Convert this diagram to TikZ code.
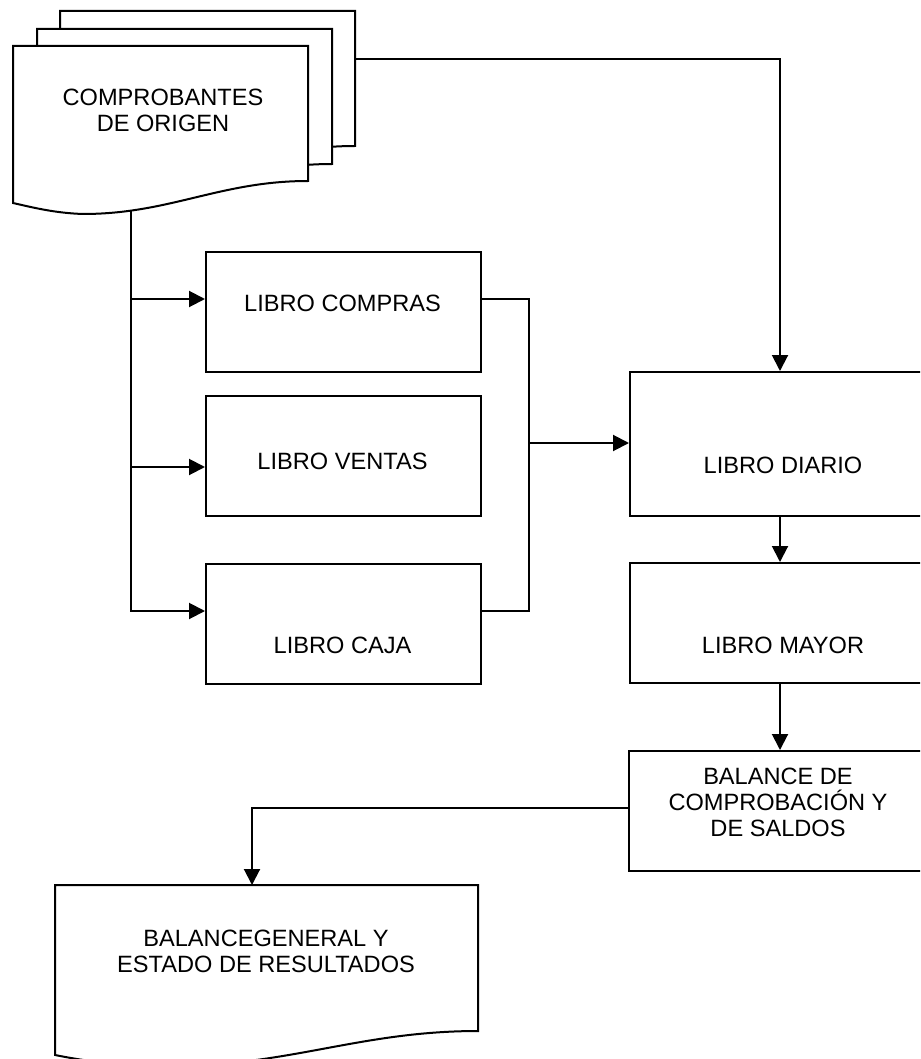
\documentclass[tikz,border=0pt]{standalone}
\usepackage{fontspec}
\setmainfont{Liberation Sans}
\usetikzlibrary{arrows.meta,calc}
\begin{document}
\begin{tikzpicture}[x=0.5pt,y=-0.5pt,
  outline/.style={draw=black,line width=1pt,fill=white,line join=miter},
  stepbox/.style={outline,rectangle,inner sep=0pt,anchor=north west},
  txt/.style={font=\fontsize{11.8pt}{13pt}\selectfont,align=center,inner sep=0pt},
  link/.style={draw=black,line width=1pt},
  arrow/.style={link,-{Triangle[length=8pt,width=8pt]}}]
\useasboundingbox (0,0) rectangle (920,1059);
\begin{scope}
\clip (0,0) rectangle (920,1059);

% stacked source documents
\foreach \dx/\dy in {47/-35,24/-17,0/0}{
  \draw[outline,shift={(\dx,\dy)}] (13,46) -- (308,46) -- (308,181)
    .. controls (220,181) and (170,214) .. (83,214)
    .. controls (55,213) and (35,208) .. (13,203) -- cycle;
}
\node[txt] (src) at (163,110) {COMPROBANTES\\DE ORIGEN};
\coordinate (srcout) at (131,211);
\coordinate (srcback) at (355,59);

% auxiliary books
\node[stepbox,minimum width=137.5pt,minimum height=60pt] (compras) at (205,251) {};
\node[stepbox,minimum width=137.5pt,minimum height=60pt] (ventas) at (205,395) {};
\node[stepbox,minimum width=137.5pt,minimum height=60pt] (caja) at (205,563) {};
\node[txt] (tcompras) at (342.5,303) {LIBRO COMPRAS};
\node[txt] (tventas) at (342.5,461) {LIBRO VENTAS};
\node[txt] (tcaja) at (342.5,645) {LIBRO CAJA};

% main books
\node[stepbox,minimum width=150pt,minimum height=72pt] (diario) at (629,371) {};
\node[stepbox,minimum width=150pt,minimum height=60pt] (mayor) at (629,562) {};
\node[stepbox,minimum width=151pt,minimum height=60pt] (balance) at (628,750) {};
\node[txt] (tdiario) at (783,465) {LIBRO DIARIO};
\node[txt] (tmayor) at (783,645) {LIBRO MAYOR};
\node[txt] (tbalance) at (778,802) {BALANCE DE\\COMPROBACIÓN Y\\DE SALDOS};

% final statements document
\draw[outline] (55,885) -- (478,885) -- (478,1031)
  .. controls (360,1031) and (290,1066) .. (170,1066)
  .. controls (120,1066) and (85,1061) .. (55,1055) -- cycle;
\node[txt] (final) at (266,951) {BALANCEGENERAL Y\\ESTADO DE RESULTADOS};
\coordinate (finalin) at (252,885);

% connection points
\coordinate (comprasin) at ($(compras.north west)+(0,48)$);
\coordinate (ventasin) at ($(ventas.north west)+(0,72)$);
\coordinate (cajain) at ($(caja.north west)+(0,48)$);
\coordinate (comprasout) at ($(compras.north east)+(0,48)$);
\coordinate (cajaout) at ($(caja.north east)+(0,48)$);
\coordinate (rbus) at (529,443);
\coordinate (balout) at ($(balance.north west)+(0,58)$);

% source to auxiliary books
\draw[arrow] (srcout) |- (cajain);
\draw[arrow] (srcout |- comprasin) -- (comprasin);
\draw[arrow] (srcout |- ventasin) -- (ventasin);

% auxiliary books to journal
\draw[link] (comprasout) -| (rbus) |- (cajaout);
\draw[arrow] (rbus) -- (rbus -| diario.west);

% source straight to journal
\draw[arrow] (srcback) -| (diario.north);

% journal -> ledger -> trial balance -> statements
\draw[arrow] (diario.south) -- (mayor.north);
\draw[arrow] (mayor.south) -- (balance.north);
\draw[arrow] (balout) -| (finalin);
\end{scope}
\end{tikzpicture}
\end{document}
